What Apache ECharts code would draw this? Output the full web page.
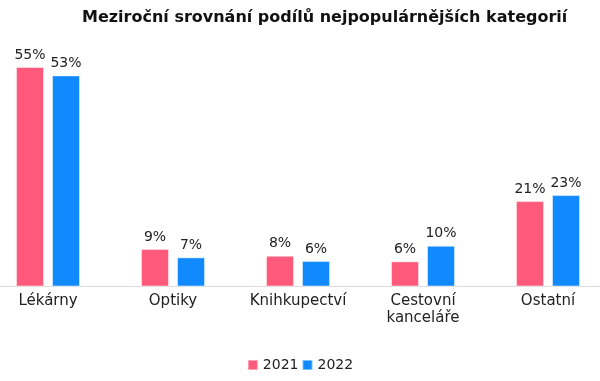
<!DOCTYPE html>
<html>
<head>
<meta charset="utf-8">
<script src="https://cdn.jsdelivr.net/npm/echarts@6/dist/echarts.min.js"></script>
<style>html,body{margin:0;padding:0;background:#fff;}#c{width:600px;height:381px;}</style>
</head>
<body>
<div id="c"></div>
<script>
const titleText = 'Meziroční srovnání podílů nejpopulárnějších kategorií';
const categories = ['Lékárny', 'Optiky', 'Knihkupectví', 'Cestovní\nkanceláře', 'Ostatní'];
const seriesNames = ['2021', '2022'];
const values2021 = [55, 9.4, 7.7, 6.3, 21.4];
const values2022 = [52.9, 7.3, 6.4, 10.2, 22.9];

const chart = echarts.init(document.getElementById('c'), null, {renderer: 'canvas'});
const font = 'DejaVu Sans';
const labelCfg = {
  show: true, position: 'top', distance: 5,
  fontFamily: font, fontSize: 14, color: '#222',
  formatter: p => Math.round(p.value) + '%'
};
chart.setOption({
  animation: false,
  title: {
    text: titleText, left: 82, top: 10, padding: 0,
    textStyle: {fontFamily: font, fontSize: 16, fontWeight: 'bold', color: '#111'}
  },
  legend: {
    bottom: 9, left: 'center', itemWidth: 10, itemHeight: 10, itemGap: 3,
    icon: 'rect', padding: 0,
    textStyle: {fontFamily: font, fontSize: 14, color: '#222'},
    data: seriesNames
  },
  grid: [
    {left: 48, right: 52, top: 67, bottom: 94.5, containLabel: false},
    {left: 0, right: 0, top: 67, bottom: 94.5, containLabel: false}
  ],
  xAxis: [
    {
      type: 'category', data: categories, gridIndex: 0, boundaryGap: false,
      axisLine: {show: false}, axisTick: {show: false},
      axisLabel: {fontFamily: font, fontSize: 15, color: '#222', lineHeight: 17, margin: 6, interval: 0}
    },
    {
      type: 'category', data: [''], gridIndex: 1,
      axisLine: {show: true, lineStyle: {color: '#dcdcdc', width: 1}},
      axisTick: {show: false}, axisLabel: {show: false}
    }
  ],
  yAxis: [
    {type: 'value', gridIndex: 0, min: 0, max: 55, show: false, splitLine: {show: false}},
    {type: 'value', gridIndex: 1, show: false}
  ],
  series: [
    {
      name: seriesNames[0], type: 'bar', data: values2021, barWidth: 28, barGap: '28.6%',
      itemStyle: {color: '#ff5a7b', borderColor: 'rgba(255,255,255,0.45)', borderWidth: 1},
      label: labelCfg
    },
    {
      name: seriesNames[1], type: 'bar', data: values2022, barWidth: 28,
      itemStyle: {color: '#118aff', borderColor: 'rgba(255,255,255,0.45)', borderWidth: 1},
      label: labelCfg
    }
  ]
});
</script>
</body>
</html>
